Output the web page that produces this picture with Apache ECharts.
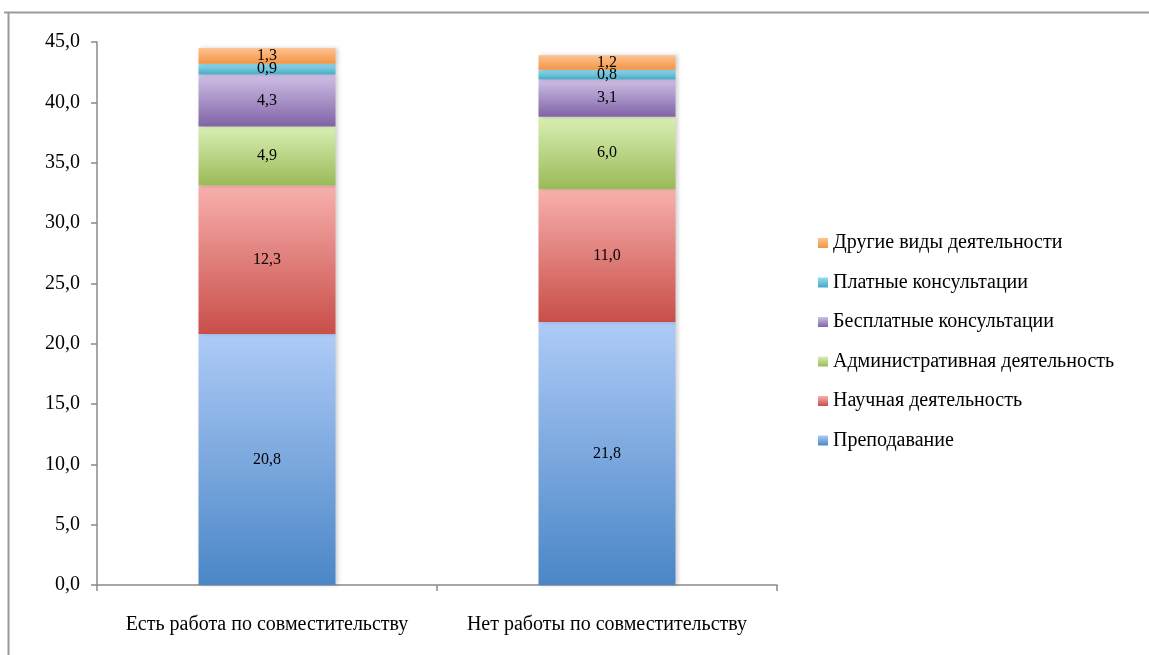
<!DOCTYPE html>
<html>
<head>
<meta charset="utf-8">
<script src="https://cdn.jsdelivr.net/npm/echarts@6/dist/echarts.min.js"></script>
<style>html,body{margin:0;padding:0;background:#fff;}#c{width:1149px;height:655px;}</style>
</head>
<body>
<div id="c"></div>
<script>
const categories = ['Есть работа по совместительству', 'Нет работы по совместительству'];
const seriesNames = ['Преподавание', 'Научная деятельность', 'Административная деятельность', 'Бесплатные консультации', 'Платные консультации', 'Другие виды деятельности'];
const teaching = [20.8, 21.8];
const science = [12.3, 11.0];
const admin = [4.9, 6.0];
const freeConsult = [4.3, 3.1];
const paidConsult = [0.9, 0.8];
const other = [1.3, 1.2];
const yTicks = { min: 0, max: 45, interval: 5 };

const allValues = [teaching, science, admin, freeConsult, paidConsult, other];
const gradients = [
  ['#aecbf7', '#4a86c6'],
  ['#f8b0ad', '#c84e49'],
  ['#d9efb4', '#9aba58'],
  ['#cfc0e6', '#8063a6'],
  ['#93dcf1', '#48a9c4'],
  ['#fcc393', '#f59443']
];
const FONT = '"Liberation Serif", "Times New Roman", serif';

const series = seriesNames.map((name, i) => ({
  name: name,
  type: 'bar',
  stack: 'total',
  barWidth: 137,
  data: allValues[i],
  itemStyle: {
    color: new echarts.graphic.LinearGradient(0, 0, 0, 1, [
      { offset: 0, color: gradients[i][0] },
      { offset: 1, color: gradients[i][1] }
    ]),
    shadowColor: 'rgba(0,0,0,0.18)',
    shadowBlur: 4,
    shadowOffsetX: 2
  },
  label: {
    show: true,
    position: 'inside',
    color: '#000',
    fontFamily: FONT,
    fontSize: 16,
    formatter: p => p.value.toFixed(1).replace('.', ',')
  }
}));

const chart = echarts.init(document.getElementById('c'));
chart.setOption({
  animation: false,
  backgroundColor: '#fff',
  grid: { left: 97, right: 372, top: 42, bottom: 70 },
  graphic: [
    { type: 'line', shape: { x1: 4, y1: 12.5, x2: 1149, y2: 12.5 }, style: { stroke: '#9a9a9a', lineWidth: 2 } },
    { type: 'line', shape: { x1: 8.5, y1: 12, x2: 8.5, y2: 655 }, style: { stroke: '#9a9a9a', lineWidth: 2 } }
  ],
  legend: {
    orient: 'vertical',
    left: 813,
    top: 227,
    icon: 'rect',
    itemWidth: 10,
    itemHeight: 10,
    itemGap: 17.5,
    data: seriesNames.slice().reverse(),
    textStyle: { fontFamily: FONT, fontSize: 20, color: '#000', lineHeight: 22 }
  },
  xAxis: {
    type: 'category',
    data: categories,
    axisLine: { lineStyle: { color: '#8a8a8a', width: 1.5 } },
    axisTick: { show: true, length: 6, lineStyle: { color: '#8a8a8a', width: 1.5 } },
    axisLabel: { color: '#000', fontFamily: FONT, fontSize: 20, margin: 30, interval: 0, hideOverlap: false }
  },
  yAxis: {
    type: 'value',
    min: yTicks.min,
    max: yTicks.max,
    interval: yTicks.interval,
    axisLine: { show: true, lineStyle: { color: '#8a8a8a', width: 1.5 } },
    axisTick: { show: true, length: 6, lineStyle: { color: '#8a8a8a', width: 1.5 } },
    splitLine: { show: false },
    axisLabel: {
      color: '#000', fontFamily: FONT, fontSize: 20, margin: 17,
      formatter: v => v.toFixed(1).replace('.', ',')
    }
  },
  series: series
});
</script>
</body>
</html>
